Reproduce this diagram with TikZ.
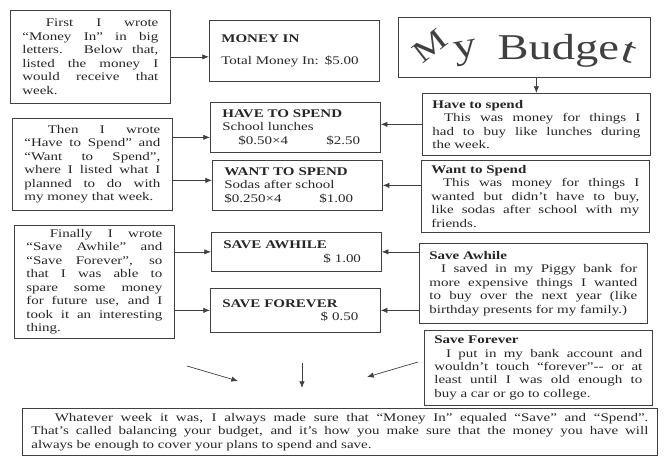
\documentclass[tikz,border=0pt]{standalone}
\usepackage{graphicx}
\usepackage{fontspec}
\setmainfont{Liberation Serif}[FakeStretch=1.28]
\usetikzlibrary{arrows.meta}

\tikzset{
    box/.style={draw=black!75, line width=0.6pt, text=black!85, inner ysep=0.12cm,
        anchor=north west, font=\fontsize{10}{11.5}\selectfont},
    leftbox/.style={box, align=justify, text width=4.08cm, inner xsep=0.36cm},
    midbox/.style={box, align=left, text width=4.38cm, inner xsep=0.36cm},
    rightbox/.style={box, align=justify, text width=6.24cm, inner xsep=0.3cm},
    arr/.style={draw=black!75, line width=0.6pt, -{Latex[length=2mm,width=1.6mm]}},
}

\begin{document}
\begin{tikzpicture}[x=0.03cm, y=-0.03cm]
    \useasboundingbox (0,0) rectangle (667,466);

    % left column
    \node[leftbox, minimum height=2.79cm] (first) at (10,10)
        {\hspace*{2em}First I wrote\linebreak “Money In” in big\linebreak letters. Below that,\linebreak listed the money I\linebreak would receive that\linebreak week.};
    \node[leftbox, minimum height=2.76cm] (then) at (12,118)
        {\hspace*{2em}Then I wrote\linebreak “Have to Spend” and\linebreak “Want to Spend”,\linebreak where I listed what I\linebreak planned to do with\linebreak my money that week.};
    \node[leftbox, minimum height=3.39cm] (finally) at (14,225)
        {\hspace*{2em}Finally I wrote\linebreak “Save Awhile” and\linebreak “Save Forever”, so\linebreak that I was able to\linebreak spare some money\linebreak for future use, and I\linebreak took it an interesting\linebreak thing.};

    % middle column
    \node[midbox, minimum height=1.83cm] (moneyin) at (209,20)
        {\textbf{MONEY IN}\\[7pt] Total Money In:\enspace\$5.00};
    \node[midbox, minimum height=1.5cm] (havespend) at (210,102)
        {\textbf{HAVE TO SPEND}\\ School lunches\\ \hspace*{0.48cm}\makebox[2.64cm][l]{\$0.50×4}\$2.50};
    \node[midbox, minimum height=1.5cm] (wantspend) at (212,160)
        {\textbf{WANT TO SPEND}\\ Sodas after school\\ \makebox[2.85cm][l]{\$0.250×4}\$1.00};
    \node[midbox, minimum height=1.17cm] (saveawhile) at (211,232)
        {\textbf{SAVE AWHILE}\\ \hspace*{3.0cm}\$ 1.00};
    \node[midbox, minimum height=1.32cm] (saveforever) at (210,288)
        {\textbf{SAVE FOREVER}\\ \hspace*{2.95cm}\$ 0.50};

    % right column
    \node[box, minimum width=7.56cm, minimum height=1.8cm, inner sep=0pt, text=black!75,
        font=\fontsize{31}{31}\selectfont] (title) at (398,17)
        {\raisebox{-5pt}{\rotatebox{38}{\fontsize{26}{26}\selectfont M}}\hspace{2pt}\rotatebox{10}{y}\hspace{0.5em}Budge\rotatebox{-20}{t}};
    \node[rightbox, minimum height=1.86cm] (havetxt) at (422,93)
        {\textbf{Have to spend}\\ \hspace*{1em}This was money for things I\linebreak had to buy like lunches during\linebreak the week.};
    \node[rightbox, minimum height=2.16cm] (wanttxt) at (421,160)
        {\textbf{Want to Spend}\\ \hspace*{1em}This was money for things I\linebreak wanted but didn't have to buy,\linebreak like sodas after school with my\linebreak friends.};
    \node[rightbox, minimum height=2.4cm] (awhiletxt) at (419,243)
        {\textbf{Save Awhile}\\ \hspace*{1em}I saved in my Piggy bank for\linebreak more expensive things I wanted\linebreak to buy over the next year (like\linebreak birthday presents for my family.)};
    \node[rightbox, minimum height=2.25cm] (forevertxt) at (424,330)
        {\textbf{Save Forever}\\ \hspace*{1em}I put in my bank account and\linebreak wouldn't touch “forever”-{}- or at\linebreak least until I was old enough to\linebreak buy a car or go to college.};

    % bottom
    \node[box, align=justify, text width=18.51cm, inner xsep=0.27cm, minimum height=1.41cm] (balance) at (22,408)
        {\hspace*{2em}Whatever week it was, I always made sure that “Money In” equaled “Save” and “Spend”.\linebreak That's called balancing your budget, and it's how you make sure that the money you have will\linebreak always be enough to cover your plans to spend and save.};

    % arrows from the left
    \draw[arr] (first.east) -- (first.east -| moneyin.west);
    \coordinate (hs in) at ([yshift=-0.3cm]havespend.west);
    \coordinate (ws in) at ([yshift=0.15cm]wantspend.west);
    \draw[arr] (then.east |- hs in) -- (hs in);
    \draw[arr] (then.east |- ws in) -- (ws in);
    \draw[arr] (finally.east |- saveawhile.west) -- (saveawhile.west);
    \draw[arr] (finally.east |- saveforever.west) -- (saveforever.west);

    % arrows from the right
    \draw[arr] (havetxt.north |- title.south) -- (havetxt.north);
    \draw[arr] (havetxt.west) -- (havetxt.west -| havespend.east);
    \draw[arr] (wanttxt.west |- wantspend.east) -- (wantspend.east);
    \draw[arr] (awhiletxt.west |- saveawhile.east) -- (saveawhile.east);
    \draw[arr] (awhiletxt.west |- saveforever.east) -- (saveforever.east);

    % arrows down to the bottom
    \coordinate (l tail) at (187,366);
    \coordinate (l tip) at (238,381);
    \coordinate (m tail) at (302,363);
    \coordinate (m tip) at (302,388);
    \coordinate (r tail) at (418,362);
    \coordinate (r tip) at (367,377);
    \draw[arr] (l tail) -- (l tip);
    \draw[arr] (m tail) -- (m tip);
    \draw[arr] (r tail) -- (r tip);
\end{tikzpicture}
\end{document}
